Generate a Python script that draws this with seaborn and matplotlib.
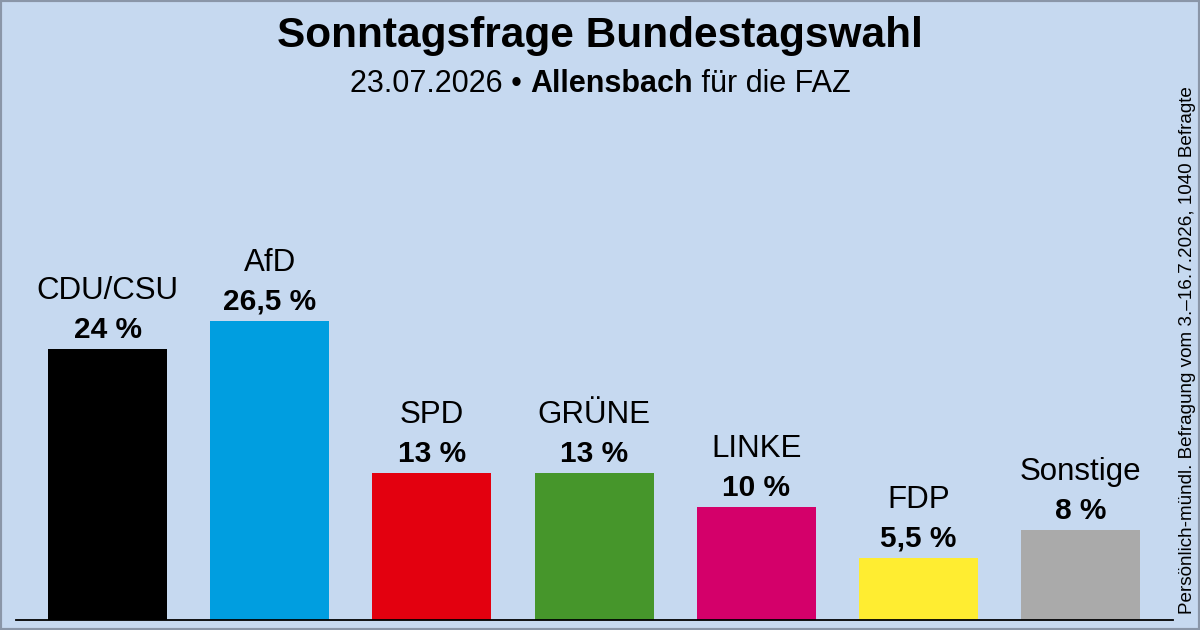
import matplotlib
matplotlib.use("Agg")
import matplotlib.pyplot as plt
import seaborn as sns
import pandas as pd
from matplotlib.patches import Rectangle
from matplotlib.offsetbox import TextArea, HPacker, AnchoredOffsetbox

parties = ["CDU/CSU", "AfD", "SPD", "GRÜNE", "LINKE", "FDP", "Sonstige"]
values = [24, 26.5, 13, 13, 10, 5.5, 8]
value_labels = ["24 %", "26,5 %", "13 %", "13 %", "10 %", "5,5 %", "8 %"]
colors = ["#000000", "#009ee0", "#e3000f", "#46962b", "#d4006a", "#ffed31", "#aaaaaa"]

title = "Sonntagsfrage Bundestagswahl"
sub_date = "23.07.2026 • "
sub_inst = "Allensbach"
sub_rest = " für die FAZ"
side_note = "Persönlich-mündl. Befragung vom 3.–16.7.2026, 1040 Befragte"

bg = "#c6d9f0"
sns.set_theme(style="white")
plt.rcParams["font.family"] = ["Liberation Sans", "DejaVu Sans"]

df = pd.DataFrame({"party": parties, "value": values})

W, H = 1200, 630
fig = plt.figure(figsize=(12, 6.3), dpi=100, facecolor=bg)
ax_left, ax_right = 16, 1173
ax_bottom_px, ax_top_px = 620, 100
ax = fig.add_axes([ax_left / W, (H - ax_bottom_px) / H,
                   (ax_right - ax_left) / W, (ax_bottom_px - ax_top_px) / H])
ax.set_facecolor(bg)

sns.barplot(data=df, x="party", y="value", hue="party", palette=colors,
            width=0.734, saturation=1, legend=False, ax=ax, edgecolor="none")

step = 162.2
c0 = 107.5
ax.set_xlim((ax_left - c0) / step, (ax_right - c0) / step)
px_per = 11.285
ax.set_ylim(0, (ax_bottom_px - ax_top_px) / px_per)

for s in ["top", "right", "left"]:
    ax.spines[s].set_visible(False)
ax.spines["bottom"].set_color("#000000")
ax.spines["bottom"].set_linewidth(1.3)
ax.set_xticks([])
ax.set_yticks([])
ax.set_xlabel("")
ax.set_ylabel("")

for i, (p, v, lab) in enumerate(zip(parties, values, value_labels)):
    ax.annotate(lab, (i, v), xytext=(0, 8), textcoords="offset points",
                ha="center", va="baseline", fontsize=21.5, fontweight="bold", color="#000000")
    ax.annotate(p, (i, v), xytext=(0, 36), textcoords="offset points",
                ha="center", va="baseline", fontsize=22.5, color="#000000")

fig.text(0.5, 1 - 47 / H, title, ha="center", va="baseline", fontsize=30.5,
         fontweight="bold", color="#000000")

t1 = TextArea(sub_date, textprops=dict(fontsize=22, color="#000000"))
t2 = TextArea(sub_inst, textprops=dict(fontsize=22, fontweight="bold", color="#000000"))
t3 = TextArea(sub_rest, textprops=dict(fontsize=22, color="#000000"))
pack = HPacker(children=[t1, t2, t3], align="baseline", pad=0, sep=0)
ab = AnchoredOffsetbox(loc="lower center", child=pack, pad=0, frameon=False,
                       bbox_to_anchor=(0.5, 1 - 99 / H), bbox_transform=fig.transFigure,
                       borderpad=0)
fig.add_artist(ab)

fig.text(1188 / W, 1 - 350 / H, side_note, rotation=90, ha="center", va="center",
         fontsize=13.6, color="#000000")

fig.add_artist(Rectangle((0, 0), 1, 1, transform=fig.transFigure, fill=False,
                         edgecolor="#8a96a8", linewidth=3))

fig.savefig("out.png", dpi=100, facecolor=bg)
